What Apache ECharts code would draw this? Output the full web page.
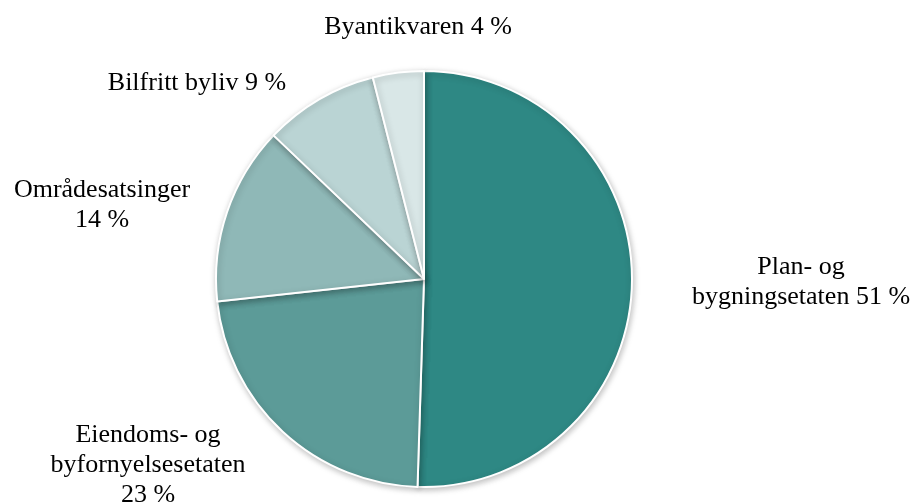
<!DOCTYPE html>
<html>
<head>
<meta charset="utf-8">
<script src="https://cdn.jsdelivr.net/npm/echarts@6/dist/echarts.min.js"></script>
<style>
  html, body { margin: 0; padding: 0; background: #fff; }
  #chart { width: 912px; height: 504px; }
</style>
</head>
<body>
<div id="chart"></div>
<script>
var categories = ['Plan- og bygningsetaten', 'Eiendoms- og byfornyelsesetaten', 'Områdesatsinger', 'Bilfritt byliv', 'Byantikvaren']
var values = [51, 23, 14, 9, 4]
var labelTexts = ['Plan- og\nbygningsetaten 51 %', 'Eiendoms- og\nbyfornyelsesetaten\n23 %', 'Områdesatsinger\n14 %', 'Bilfritt byliv 9 %', 'Byantikvaren 4 %']
var colors = ['#2e8884', '#5c9b98', '#8fb8b7', '#bad4d4', '#d9e7e7']

// label centres (layout only)
var labelPos = [[801, 282], [148, 465], [102, 205], [197, 83], [418, 27]]

var chart = echarts.init(document.getElementById('chart'))
chart.setOption({
  animation: false,
  color: colors,
  series: [{
    type: 'pie',
    center: [424, 279],
    radius: 208,
    startAngle: 90,
    clockwise: true,
    data: categories.map(function (name, i) {
      return { name: name, value: values[i] }
    }),
    itemStyle: {
      borderColor: '#fff',
      borderWidth: 2,
      shadowBlur: 6,
      shadowColor: 'rgba(0,0,0,0.25)',
      shadowOffsetX: 1,
      shadowOffsetY: 2
    },
    label: {
      show: true,
      position: 'outside',
      formatter: function (p) { return labelTexts[p.dataIndex] },
      fontFamily: 'Liberation Serif',
      fontSize: 26,
      lineHeight: 30,
      color: '#000',
      align: 'center',
      overflow: 'none',
      width: 300
    },
    labelLine: { show: false },
    labelLayout: function (p) {
      var pos = labelPos[p.dataIndex]
      return { x: pos[0], y: pos[1], align: 'center', verticalAlign: 'middle' }
    }
  }]
})
</script>
</body>
</html>
